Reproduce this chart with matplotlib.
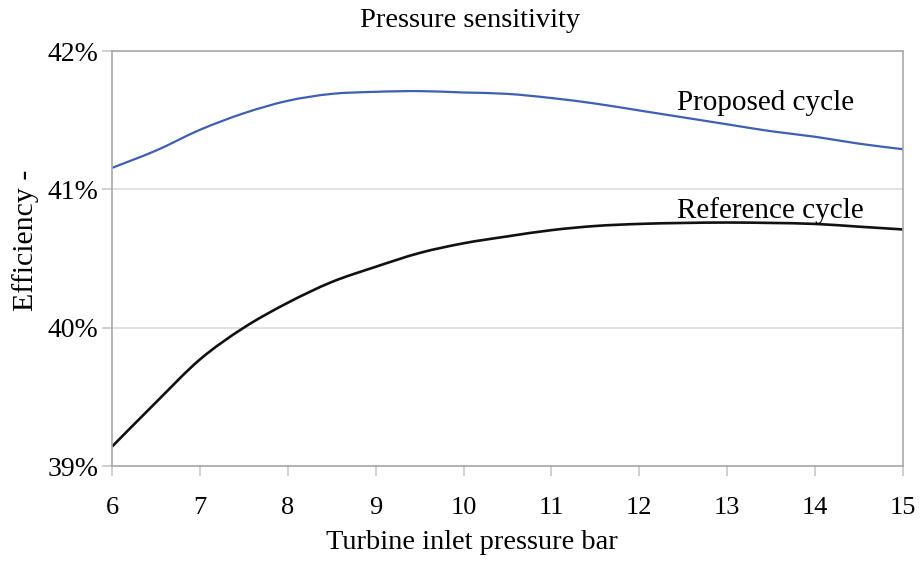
import matplotlib
matplotlib.use("Agg")
import matplotlib.pyplot as plt
from matplotlib.ticker import FuncFormatter
from matplotlib.path import Path
from matplotlib.patches import PathPatch

pressure = [6, 6.5, 7, 7.5, 8, 8.5, 9, 9.5, 10, 10.5, 11, 11.5, 12, 12.5, 13, 13.5, 14, 14.5, 15]
proposed = [41.155, 41.28, 41.43, 41.55, 41.64, 41.69, 41.705, 41.71, 41.70, 41.69, 41.66, 41.62,
            41.57, 41.52, 41.47, 41.42, 41.38, 41.33, 41.29]
reference = [39.14, 39.46, 39.77, 40.00, 40.18, 40.33, 40.44, 40.54, 40.61, 40.66, 40.705, 40.735,
             40.75, 40.757, 40.76, 40.757, 40.75, 40.73, 40.71]
x_ticks = [6, 7, 8, 9, 10, 11, 12, 13, 14, 15]
y_ticks = [39, 40, 41, 42]

plt.rcParams['font.family'] = ['Liberation Serif', 'DejaVu Serif']


def smooth_path(xs, ys):
    """Catmull-Rom style smoothed path (like a spreadsheet's smoothed line) through the data points."""
    verts = [(xs[0], ys[0])]
    codes = [Path.MOVETO]
    n = len(xs)
    for i in range(n - 1):
        x0, y0 = (xs[i - 1], ys[i - 1]) if i > 0 else (xs[i], ys[i])
        x1, y1 = xs[i], ys[i]
        x2, y2 = xs[i + 1], ys[i + 1]
        x3, y3 = (xs[i + 2], ys[i + 2]) if i + 2 < n else (x2, y2)
        c1 = (x1 + (x2 - x0) / 6, y1 + (y2 - y0) / 6)
        c2 = (x2 - (x3 - x1) / 6, y2 - (y3 - y1) / 6)
        verts += [c1, c2, (x2, y2)]
        codes += [Path.CURVE4] * 3
    return Path(verts, codes)


fig = plt.figure(figsize=(9.23, 5.61), dpi=100)
ax = fig.add_axes([112/923, 1-466/561, (903-112)/923, (466-51)/561])

ax.add_patch(PathPatch(smooth_path(pressure, proposed), facecolor='none', edgecolor='#3f5fb5', lw=1.6))
ax.add_patch(PathPatch(smooth_path(pressure, reference), facecolor='none', edgecolor='#111111', lw=1.9))

ax.set_xlim(6, 15)
ax.set_ylim(39, 42)
ax.set_xticks(x_ticks)
ax.set_yticks(y_ticks)
ax.yaxis.set_major_formatter(FuncFormatter(lambda v, p: f"{v:.0f}%"))
ax.grid(axis='y', color='#dcdcdc', lw=1.2)
ax.set_axisbelow(True)
for s in ax.spines.values():
    s.set_color('#a8a8a8')
    s.set_linewidth(1.2)
ax.tick_params(axis='x', direction='out', length=7, width=1.2, color='#c8c8c8', pad=15, labelsize=19)
ax.tick_params(axis='y', direction='out', length=7, width=1.2, color='#c8c8c8', pad=3, labelsize=20)

ax.text(12.43, 41.573, 'Proposed cycle', fontsize=21, va='baseline', ha='left')
ax.text(12.43, 40.79, 'Reference cycle', fontsize=21, va='baseline', ha='left')

fig.text(470/923, 1-27/561, 'Pressure sensitivity', fontsize=20.5, ha='center', va='baseline')
fig.text(472/923, 1-549/561, 'Turbine inlet pressure bar', fontsize=20.5, ha='center', va='baseline')
fig.text(26/923, 1-240/561, 'Efficiency -', fontsize=21.5, ha='center', va='center', rotation=90)

fig.savefig('out.png', dpi=100)
